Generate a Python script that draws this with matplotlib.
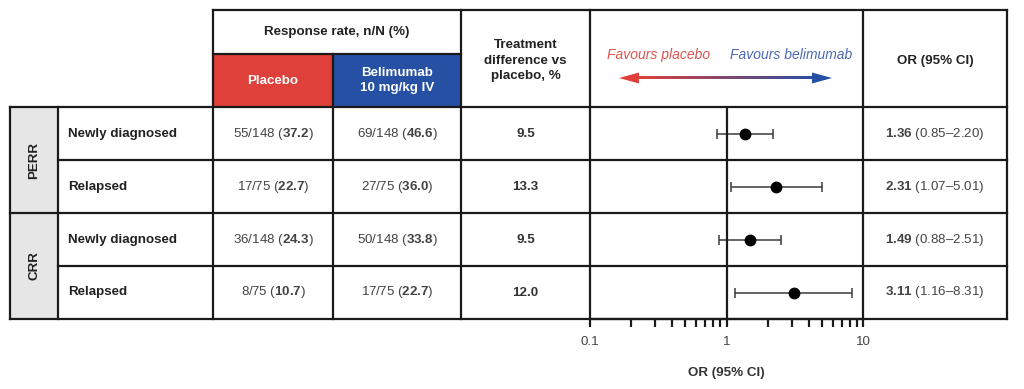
import numpy as np
import matplotlib
matplotlib.use('Agg')
import matplotlib.pyplot as plt
from matplotlib.patches import Polygon, Rectangle
from matplotlib.colors import to_rgb

plt.rcParams['font.family'] = ['Liberation Sans', 'DejaVu Sans']
plt.rcParams['mathtext.fontset'] = 'custom'
plt.rcParams['mathtext.rm'] = 'Liberation Sans'
plt.rcParams['mathtext.bf'] = 'Liberation Sans:bold'

# datos
grupos = ['PERR', 'CRR']
subgrupos = ['Newly diagnosed', 'Relapsed', 'Newly diagnosed', 'Relapsed']
placebo_n = [55, 17, 36, 8]
placebo_N = [148, 75, 148, 75]
placebo_pct = [37.2, 22.7, 24.3, 10.7]
belim_n = [69, 27, 50, 17]
belim_N = [148, 75, 148, 75]
belim_pct = [46.6, 36.0, 33.8, 22.7]
diferencia = [9.5, 13.3, 9.5, 12.0]
odds = [1.36, 2.31, 1.49, 3.11]
ic_bajo = [0.85, 1.07, 0.88, 1.16]
ic_alto = [2.20, 5.01, 2.51, 8.31]

ROJO = '#e0403a'
AZUL = '#2550a3'
LINEA = '#1a1a1a'
LW = 1.6
FS = 9.6

fig = plt.figure(figsize=(10.24, 3.89), dpi=100)
ax = fig.add_axes([0, 0, 1, 1])

# columnas (px)
x_grp, x_lab, x_pla, x_bel, x_dif, x_for, x_or, x_fin = 10, 58, 213, 333, 461, 590, 863, 1007
y_top, y_mid, y_body = 10, 54, 107
alto_fila = 53
n = len(subgrupos)
y_fin = y_body + alto_fila * n

# cabecera
ax.add_patch(Rectangle((x_pla, y_mid), x_bel - x_pla, y_body - y_mid, color=ROJO, lw=0))
ax.add_patch(Rectangle((x_bel, y_mid), x_dif - x_bel, y_body - y_mid, color=AZUL, lw=0))
for j in range(len(grupos)):
    y0 = y_body + 2 * j * alto_fila
    ax.add_patch(Rectangle((x_grp, y0), x_lab - x_grp, 2 * alto_fila, color='#e6e6e6', lw=0))
    ax.text((x_grp + x_lab) / 2, y0 + alto_fila, grupos[j], rotation=90, ha='center', va='center',
            fontsize=FS, fontweight='bold', color='#222222')

ax.text((x_pla + x_dif) / 2, (y_top + y_mid) / 2, 'Response rate, n/N (%)', ha='center', va='center',
        fontsize=FS, fontweight='bold', color='#222222')
ax.text((x_pla + x_bel) / 2, (y_mid + y_body) / 2, 'Placebo', ha='center', va='center',
        fontsize=FS, fontweight='bold', color='white')
ax.text((x_bel + x_dif) / 2, (y_mid + y_body) / 2, 'Belimumab\n10 mg/kg IV', ha='center', va='center',
        fontsize=FS, fontweight='bold', color='white', linespacing=1.3)
ax.text((x_dif + x_for) / 2, (y_top + y_body) / 2 + 2, 'Treatment\ndifference vs\nplacebo, %', ha='center',
        va='center', fontsize=FS, fontweight='bold', color='#222222', linespacing=1.35)
ax.text((x_or + x_fin) / 2, (y_top + y_body) / 2 + 2, 'OR (95% CI)', ha='center', va='center',
        fontsize=FS, fontweight='bold', color='#222222')

# flecha con degradado
r, b = np.array(to_rgb(ROJO)), np.array(to_rgb(AZUL))
t = np.linspace(0, 1, 200)
grad = (r[None, :] * (1 - t[:, None]) + b[None, :] * t[:, None])[None, :, :]
ax.imshow(grad, extent=[636, 815, 79.2, 76.8], aspect='auto', interpolation='bilinear', zorder=2)
ax.add_patch(Polygon([(619, 78), (639, 72.5), (639, 83.5)], closed=True, color=ROJO, lw=0))
ax.add_patch(Polygon([(832, 78), (812, 72.5), (812, 83.5)], closed=True, color=AZUL, lw=0))
ax.text(659, 55, 'Favours placebo', ha='center', va='center', fontsize=FS + 0.4, style='italic', color='#e0524c')
ax.text(791, 55, 'Favours belimumab', ha='center', va='center', fontsize=FS + 0.4, style='italic', color='#4a68b5')

# filas
for i in range(n):
    yc = y_body + (i + 0.5) * alto_fila
    ax.text(x_lab + 10, yc, subgrupos[i], ha='left', va='center', fontsize=FS, fontweight='bold', color='#222222')
    ax.text((x_pla + x_bel) / 2, yc, r'%d/%d ($\mathbf{%.1f}$)' % (placebo_n[i], placebo_N[i], placebo_pct[i]),
            ha='center', va='center', fontsize=FS, color='#444444')
    ax.text((x_bel + x_dif) / 2, yc, r'%d/%d ($\mathbf{%.1f}$)' % (belim_n[i], belim_N[i], belim_pct[i]),
            ha='center', va='center', fontsize=FS, color='#444444')
    ax.text((x_dif + x_for) / 2, yc, '%.1f' % diferencia[i], ha='center', va='center',
            fontsize=FS, fontweight='bold', color='#333333')
    ax.text((x_or + x_fin) / 2, yc, r'$\mathbf{%.2f}$ (%.2f–%.2f)' % (odds[i], ic_bajo[i], ic_alto[i]),
            ha='center', va='center', fontsize=FS, color='#444444')

# lineas de la tabla
def linea(x0, y0, x1, y1):
    ax.plot([x0, x1], [y0, y1], color=LINEA, lw=LW, solid_capstyle='projecting')

linea(x_pla, y_top, x_fin, y_top)
linea(x_pla, y_mid, x_dif, y_mid)
linea(x_grp, y_body, x_fin, y_body)
for i in range(1, n + 1):
    y = y_body + i * alto_fila
    linea(x_grp if i % 2 == 0 else x_lab, y, x_fin, y)
linea(x_grp, y_body, x_grp, y_fin)
linea(x_lab, y_body, x_lab, y_fin)
linea(x_pla, y_top, x_pla, y_fin)
linea(x_bel, y_mid, x_bel, y_fin)
for x in [x_dif, x_for, x_or, x_fin]:
    linea(x, y_top, x, y_fin)

ax.set_xlim(0, 1024)
ax.set_ylim(389, 0)
ax.axis('off')

# forest plot
W, H = 1024, 389
axf = fig.add_axes([x_for / W, (H - y_fin) / H, (x_or - x_for) / W, (y_fin - y_body) / H])
axf.patch.set_alpha(0)
axf.set_xscale('log')
axf.set_xlim(0.1, 10)
axf.set_ylim(n, 0)
yy = np.arange(n) + 0.5
axf.errorbar(odds, yy, xerr=[np.array(odds) - np.array(ic_bajo), np.array(ic_alto) - np.array(odds)],
             fmt='o', color='black', ms=7.5, ecolor='#3a3a3a', elinewidth=1.1, capsize=3.5, capthick=1.1)
axf.axvline(1, color=LINEA, lw=LW)
for s in ['top', 'left', 'right']:
    axf.spines[s].set_visible(False)
axf.spines['bottom'].set_linewidth(LW)
axf.spines['bottom'].set_color(LINEA)
axf.set_yticks([])
axf.set_xticks([0.1, 1, 10])
axf.set_xticklabels(['0.1', '1', '10'])
axf.tick_params(axis='x', which='major', length=6, width=LW, color=LINEA, labelsize=FS,
                labelcolor='#444444', pad=6)
axf.tick_params(axis='x', which='minor', length=6, width=LW, color=LINEA)
axf.xaxis.set_minor_formatter(matplotlib.ticker.NullFormatter())
axf.set_xlabel('OR (95% CI)', fontsize=FS, fontweight='bold', color='#333333', labelpad=14)

fig.savefig('out.png', dpi=100)
